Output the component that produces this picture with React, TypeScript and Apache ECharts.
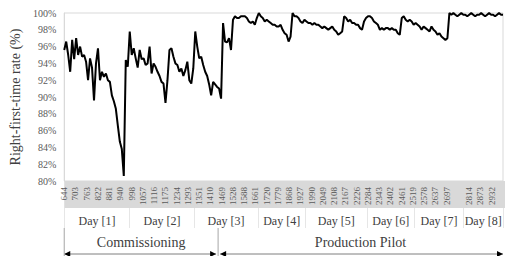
import React, { useEffect, useRef } from "react";
import * as echarts from "echarts";

// Right-first-time rate (%) sampled along the run (one value per step)
const rftRate: number[] = [
  95.6, 96.6, 95.0, 93.0, 96.8, 94.5, 97.0, 95.0, 96.0, 94.8,
  95.0, 94.2, 92.0, 94.6, 93.5, 89.6, 94.0, 95.8, 92.0, 93.0,
  92.4, 92.8, 92.0, 91.8, 90.2, 89.5, 88.6, 86.6, 84.7, 83.8,
  80.6, 94.4, 93.6, 97.8, 95.0, 95.8, 94.6, 93.5, 95.6, 94.5,
  94.6, 93.8, 94.0, 96.0, 92.8, 94.0, 93.6, 93.0, 92.5, 91.8,
  91.6, 89.3, 92.0, 95.6, 95.8, 94.8, 94.0, 93.8, 93.0, 93.4,
  92.5, 93.2, 94.2, 92.0, 91.6, 93.4, 97.8, 96.0, 94.6, 94.8,
  93.8, 93.0, 92.5, 91.5, 90.2, 91.8, 91.5, 91.2, 91.0, 89.8,
  98.8, 96.6, 96.5, 97.0, 95.6, 99.2, 99.6, 99.4, 99.4, 99.6,
  99.6, 99.6, 99.4, 99.0, 98.8, 99.0, 98.6, 99.4, 100, 99.6,
  99.4, 99.0, 99.2, 99.0, 98.8, 98.6, 98.6, 98.4, 98.4, 98.6,
  98.0, 97.6, 97.4, 96.6, 97.2, 100, 99.6, 99.6, 99.4, 99.0,
  98.8, 99.2, 99.0, 98.8, 98.8, 98.6, 98.8, 98.6, 98.6, 98.4,
  98.2, 98.4, 98.2, 98.0, 98.2, 98.4, 98.0, 97.8, 97.4, 97.6,
  97.8, 99.6, 99.4, 99.0, 99.2, 98.8, 98.8, 98.6, 98.6, 98.2,
  98.0, 99.0, 99.4, 99.6, 99.6, 99.4, 99.0, 98.8, 98.6, 98.0,
  98.2, 98.0, 98.2, 98.2, 98.0, 98.2, 98.0, 98.0, 97.6, 97.4,
  99.4, 99.6, 99.2, 99.0, 99.2, 99.0, 98.6, 98.8, 98.6, 98.4,
  98.0, 98.4, 98.2, 98.0, 97.8, 98.4, 98.0, 97.8, 97.4, 97.6,
  97.2, 97.0, 96.8, 97.0, 100, 99.8, 100, 99.8, 99.6, 99.8,
  100, 99.8, 99.8, 99.6, 99.8, 100, 99.8, 99.6, 99.8, 99.8,
  100, 99.8, 99.6, 99.8, 100, 99.8, 99.8, 99.6, 99.8, 100,
  99.8, 99.8,
];

// Sample-number tick labels on the category axis ('' = unlabelled slot)
const tickLabels: string[] = [
  "644", "703", "763", "822", "881", "940", "998", "1057", "1116", "1175",
  "1234", "1293", "1351", "1410", "1469", "1528", "1588", "1661", "1720", "1779",
  "1868", "1927", "1990", "2049", "2108", "2167", "2226", "2284", "2343", "2402",
  "2461", "2519", "2578", "2637", "2697", "", "2814", "2873", "2932", "",
];

// Day groupings (boundaries in sample-step units)
const dayNames: string[] = ["Day [1]", "Day [2]", "Day [3]", "Day [4]", "Day [5]", "Day [6]", "Day [7]", "Day [8]"];
const dayBounds: number[] = [0, 33, 65.5, 97.5, 121.5, 152.5, 176.5, 201, 221];

// Project phases (boundaries in sample-step units)
const phaseNames: string[] = ["Commissioning", "Production Pilot"];
const phaseBounds: number[] = [0, 77.5, 221];

const yTicks = { min: 80, max: 100, interval: 2 };

const FONT = "Liberation Serif";

export default function App() {
  const ref = useRef<HTMLDivElement>(null);

  useEffect(() => {
    if (!ref.current) return;
    const chart = echarts.init(ref.current, undefined, { renderer: "svg" });
    const maxX = rftRate.length - 1;
    const dayCenters = dayNames.map((_, i) => (dayBounds[i] + dayBounds[i + 1]) / 2);
    const gridTop = 13;
    const gridBottomY = 181;
    const bandH = 27;

    chart.setOption({
      animation: false,
      grid: {
        left: 60,
        right: 2,
        top: gridTop,
        bottom: 256 - gridBottomY,
        show: true,
        borderColor: "#d9d9d9",
        borderWidth: 1,
        containLabel: false,
      },
      xAxis: [
        {
          type: "category",
          data: tickLabels,
          boundaryGap: false,
          position: "bottom",
          axisLine: { show: false },
          axisTick: { show: false },
          axisLabel: {
            interval: 0,
            rotate: 90,
            fontSize: 9,
            fontFamily: FONT,
            color: "#595959",
            margin: 6,
          },
          splitLine: { show: false },
          z: 5,
        },
        {
          type: "value",
          min: 0,
          max: maxX,
          show: false,
        },
        {
          type: "value",
          min: 0,
          max: maxX,
          position: "bottom",
          offset: bandH,
          axisLine: { show: false },
          axisTick: {
            show: true,
            customValues: dayBounds,
            length: 20,
            lineStyle: { color: "#e6e6e6", width: 1 },
          },
          axisLabel: {
            show: true,
            customValues: dayCenters,
            fontSize: 12,
            fontFamily: FONT,
            color: "#404040",
            margin: 7,
            formatter: (v: number) => {
              let best = 0;
              for (let i = 0; i < dayCenters.length; i++) {
                if (Math.abs(dayCenters[i] - v) < Math.abs(dayCenters[best] - v)) best = i;
              }
              return dayNames[best];
            },
          },
          splitLine: { show: false },
        },
      ],
      yAxis: {
        type: "value",
        min: yTicks.min,
        max: yTicks.max,
        interval: yTicks.interval,
        name: "Right-first-time rate (%)",
        nameLocation: "middle",
        nameRotate: 90,
        nameGap: 38,
        nameTextStyle: { fontSize: 14, fontFamily: FONT, color: "#404040" },
        axisLine: { show: true, lineStyle: { color: "#d9d9d9" } },
        axisTick: { show: false },
        splitLine: { show: false },
        axisLabel: {
          formatter: "{value}%",
          fontSize: 10,
          fontFamily: FONT,
          color: "#595959",
          margin: 8,
        },
      },
      series: [
        {
          type: "line",
          xAxisIndex: 1,
          data: rftRate.map((v, i) => [i, v]),
          symbol: "none",
          lineStyle: { color: "#000000", width: 2 },
          z: 3,
        },
      ],
    });

    const px = (v: number) => chart.convertToPixel({ xAxisIndex: 1 }, v) as number;
    const graphics: any[] = [];
    const leftX = px(0);
    graphics.push({
      type: "rect",
      z: -1,
      shape: { x: leftX, y: gridBottomY, width: 505 - leftX, height: bandH },
      style: { fill: "#d9d9d9" },
    });
    const arrowY = 254;
    const labelY = 242;
    phaseNames.forEach((name, i) => {
      const a = px(phaseBounds[i]);
      const b = px(phaseBounds[i + 1]);
      const x0 = i === 0 ? a : a + 2;
      const x1 = i === 0 ? b - 2 : b;
      graphics.push({
        type: "text",
        x: (a + b) / 2,
        y: labelY,
        style: {
          text: name,
          fontSize: 14,
          fontFamily: FONT,
          fill: "#404040",
          align: "center",
          verticalAlign: "middle",
        },
      });
      graphics.push({
        type: "line",
        shape: { x1: x0, y1: arrowY, x2: x1, y2: arrowY },
        style: { stroke: "#7f7f7f", lineWidth: 1 },
      });
      graphics.push({
        type: "polygon",
        shape: { points: [[x0, arrowY], [x0 + 6, arrowY - 3], [x0 + 6, arrowY + 3]] },
        style: { fill: "#000" },
      });
      graphics.push({
        type: "polygon",
        shape: { points: [[x1, arrowY], [x1 - 6, arrowY - 3], [x1 - 6, arrowY + 3]] },
        style: { fill: "#000" },
      });
    });
    [phaseBounds[0], phaseBounds[1]].forEach((b) => {
      const x = px(b);
      graphics.push({
        type: "line",
        shape: { x1: x, y1: 228, x2: x, y2: 256 },
        style: { stroke: "#a6a6a6", lineWidth: 1 },
      });
    });
    chart.setOption({ graphic: graphics });

    return () => chart.dispose();
  }, []);

  return (
    <div
      ref={ref}
      style={{ position: "absolute", left: 0, top: 0, width: 505, height: 256 }}
    />
  );
}
